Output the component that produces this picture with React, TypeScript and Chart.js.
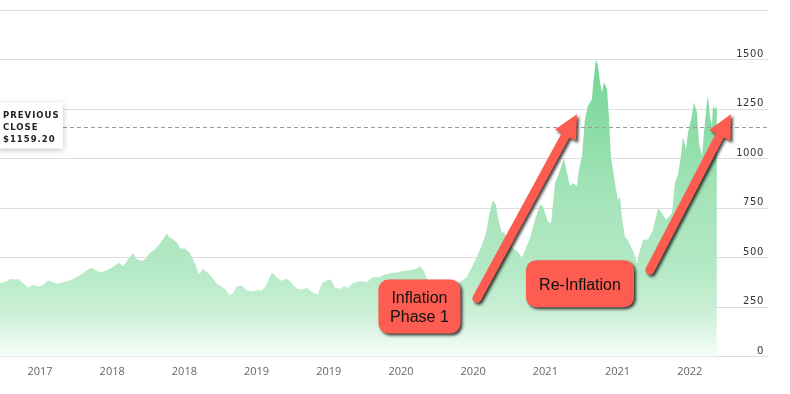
import { useEffect, useRef } from 'react';
import { Chart, registerables } from 'chart.js';

Chart.register(...registerables);

// decimal years
const dates = [
  2017.223, 2017.271, 2017.292, 2017.327, 2017.348, 2017.382, 2017.417, 2017.452, 2017.486, 2017.521,
  2017.555, 2017.583, 2017.618, 2017.659, 2017.694, 2017.729, 2017.777, 2017.825, 2017.860, 2017.895,
  2017.929, 2017.964, 2017.999, 2018.033, 2018.047, 2018.075, 2018.109, 2018.144, 2018.172, 2018.206,
  2018.227, 2018.262, 2018.296, 2018.331, 2018.352, 2018.380, 2018.393, 2018.421, 2018.449, 2018.470,
  2018.504, 2018.539, 2018.573, 2018.601, 2018.629, 2018.657, 2018.691, 2018.726, 2018.760, 2018.781,
  2018.816, 2018.837, 2018.864, 2018.899, 2018.934, 2018.968, 2019.003, 2019.037, 2019.065, 2019.086,
  2019.107, 2019.141, 2019.176, 2019.204, 2019.231, 2019.280, 2019.314, 2019.349, 2019.384, 2019.425,
  2019.453, 2019.488, 2019.515, 2019.543, 2019.578, 2019.612, 2019.633, 2019.668, 2019.716, 2019.765,
  2019.806, 2019.841, 2019.889, 2019.938, 2019.979, 2020.014, 2020.062, 2020.097, 2020.132, 2020.152,
  2020.180, 2020.222, 2020.270, 2020.319, 2020.360, 2020.409, 2020.457, 2020.492, 2020.526, 2020.561,
  2020.589, 2020.609, 2020.630, 2020.637, 2020.658, 2020.672, 2020.700, 2020.713, 2020.741, 2020.776,
  2020.810, 2020.838, 2020.859, 2020.893, 2020.928, 2020.963, 2020.983, 2021.018, 2021.039, 2021.067,
  2021.087, 2021.115, 2021.129, 2021.150, 2021.170, 2021.191, 2021.219, 2021.233, 2021.254, 2021.274,
  2021.295, 2021.323, 2021.330, 2021.350, 2021.364, 2021.378, 2021.392, 2021.406, 2021.427, 2021.440,
  2021.454, 2021.468, 2021.482, 2021.503, 2021.517, 2021.531, 2021.551, 2021.572, 2021.593, 2021.614,
  2021.634, 2021.655, 2021.676, 2021.711, 2021.745, 2021.780, 2021.808, 2021.835, 2021.877, 2021.898,
  2021.918, 2021.939, 2021.953, 2021.974, 2021.988, 2022.015, 2022.029, 2022.050, 2022.064, 2022.085,
  2022.098, 2022.119, 2022.126, 2022.140, 2022.154, 2022.161, 2022.175, 2022.188,
];

const prices = [
  372, 381, 393, 390, 393, 372, 349, 364, 355, 361,
  385, 379, 369, 376, 381, 393, 411, 437, 449, 432,
  428, 437, 451, 467, 474, 457, 491, 522, 491, 484,
  491, 525, 542, 572, 593, 623, 603, 593, 576, 547,
  547, 522, 471, 417, 442, 428, 400, 369, 352, 344,
  310, 322, 356, 359, 335, 330, 337, 335, 359, 395,
  425, 400, 383, 395, 381, 344, 339, 347, 327, 315,
  372, 386, 390, 347, 344, 356, 347, 372, 381, 378,
  403, 400, 415, 423, 425, 433, 437, 442, 457, 440,
  395, 375, 360, 345, 360, 378, 403, 454, 505, 564,
  623, 708, 776, 789, 767, 700, 623, 632, 581, 547,
  530, 501, 538, 598, 691, 770, 758, 682, 674, 877,
  911, 970, 999, 928, 860, 877, 860, 945, 1012, 1199,
  1267, 1300, 1368, 1500, 1470, 1385, 1334, 1385, 1351, 1216,
  1012, 945, 877, 792, 809, 699, 606, 589, 555, 522,
  471, 538, 589, 592, 640, 750, 725, 691, 725, 877,
  919, 1012, 1111, 1046, 1131, 1216, 1284, 1233, 1080, 1012,
  1131, 1284, 1317, 1216, 1165, 1267, 1250, 1263,
];

const xMin = 2017.223;
const xMax = 2022.542;
const xTickValues = [2017.5, 2018, 2018.5, 2019, 2019.5, 2020, 2020.5, 2021, 2021.5, 2022];
const xTickLabels = ['2017', '2018', '2018', '2019', '2019', '2020', '2020', '2021', '2021', '2022'];
const yTickValues = [0, 250, 500, 750, 1000, 1250, 1500];
const yMax = 1750;
const previousClose = 1159.2;
const previousCloseLines = ['PREVIOUS', 'CLOSE', '$1159.20'];

const noteBoxes = [
  { lines: ['Inflation', 'Phase 1'], x: 2020.128, y: 254 },
  { lines: ['Re-Inflation'], x: 2021.24, y: 369 },
];
const noteArrows = [
  { fromX: 2020.526, fromY: 295, toX: 2021.219, toY: 1224 },
  { fromX: 2021.724, fromY: 437, toX: 2022.285, toY: 1224 },
];

const RED = '#fd5c50';

function drawArrow(ctx: CanvasRenderingContext2D, x1: number, y1: number, x2: number, y2: number) {
  const dx = x2 - x1;
  const dy = y2 - y1;
  const len = Math.hypot(dx, dy);
  const ux = dx / len;
  const uy = dy / len;
  const px = -uy;
  const py = ux;
  const headLen = 24;
  const headW = 12;
  const s = 4.5;
  const bx = x2 - ux * headLen;
  const by = y2 - uy * headLen;
  ctx.beginPath();
  ctx.moveTo(x1 + px * s, y1 + py * s);
  ctx.lineTo(bx + px * s, by + py * s);
  ctx.lineTo(bx + px * headW, by + py * headW);
  ctx.lineTo(x2, y2);
  ctx.lineTo(bx - px * headW, by - py * headW);
  ctx.lineTo(bx - px * s, by - py * s);
  ctx.lineTo(x1 - px * s, y1 - py * s);
  ctx.arc(x1, y1, s, Math.atan2(-py, -px), Math.atan2(py, px), true);
  ctx.closePath();
  ctx.fill();
}

const overlayPlugin = {
  id: 'overlay',
  afterDatasetsDraw(chart: any) {
    const { ctx, chartArea, scales } = chart;
    const xs = scales.x;
    const ys = scales.y;
    ctx.save();
    // y labels above grid lines
    ctx.font = '10px "DejaVu Sans"';
    (ctx as any).letterSpacing = '0.6px';
    ctx.fillStyle = '#333';
    ctx.textAlign = 'right';
    ctx.textBaseline = 'alphabetic';
    for (const v of yTickValues) {
      const y = ys.getPixelForValue(v);
      ctx.fillText(String(v), chartArea.right - 4, y - 3);
    }
    (ctx as any).letterSpacing = '0px';

    // previous close dashed line
    const pcY = Math.round(ys.getPixelForValue(previousClose)) + 0.5;
    ctx.strokeStyle = '#9a9a9a';
    ctx.lineWidth = 1;
    ctx.setLineDash([4, 3]);
    ctx.beginPath();
    ctx.moveTo(chartArea.left, pcY);
    ctx.lineTo(chartArea.right, pcY);
    ctx.stroke();
    ctx.setLineDash([]);

    // previous close box
    ctx.save();
    ctx.shadowColor = 'rgba(0,0,0,0.25)';
    ctx.shadowBlur = 6;
    ctx.shadowOffsetY = 1;
    ctx.fillStyle = '#fff';
    ctx.fillRect(chartArea.left - 2, pcY - 25, 65, 46);
    ctx.restore();
    ctx.fillStyle = '#222';
    ctx.font = 'bold 8.5px "DejaVu Sans"';
    (ctx as any).letterSpacing = '1px';
    ctx.textAlign = 'left';
    previousCloseLines.forEach((t, i) => {
      ctx.fillText(t, chartArea.left + 3, pcY - 10 + i * 12);
    });
    (ctx as any).letterSpacing = '0px';

    // arrows
    ctx.save();
    ctx.shadowColor = 'rgba(0,0,0,0.75)';
    ctx.shadowBlur = 3;
    ctx.shadowOffsetX = 2;
    ctx.shadowOffsetY = 2;
    ctx.fillStyle = RED;
    for (const a of noteArrows) {
      drawArrow(
        ctx,
        xs.getPixelForValue(a.fromX),
        ys.getPixelForValue(a.fromY),
        xs.getPixelForValue(a.toX),
        ys.getPixelForValue(a.toY),
      );
    }
    ctx.restore();

    // boxes
    ctx.font = '16px "Liberation Sans", Arial, sans-serif';
    for (const b of noteBoxes) {
      const cx = xs.getPixelForValue(b.x);
      const cy = ys.getPixelForValue(b.y);
      const w = b.lines.length > 1 ? 82 : 108;
      const h = b.lines.length > 1 ? 54 : 47;
      ctx.save();
      ctx.shadowColor = 'rgba(0,0,0,0.75)';
      ctx.shadowBlur = 3;
      ctx.shadowOffsetX = 2;
      ctx.shadowOffsetY = 2;
      ctx.fillStyle = RED;
      ctx.beginPath();
      (ctx as any).roundRect(cx - w / 2, cy - h / 2, w, h, 10);
      ctx.fill();
      ctx.restore();
      ctx.fillStyle = '#111';
      ctx.textAlign = 'center';
      ctx.textBaseline = 'alphabetic';
      const lh = 19;
      const startBase = cy + 6 - ((b.lines.length - 1) * lh) / 2;
      b.lines.forEach((t, i) => ctx.fillText(t, cx, startBase + i * lh));
    }
    ctx.restore();
  },
};

export default function App() {
  const ref = useRef<HTMLCanvasElement>(null);
  useEffect(() => {
    document.body.style.margin = '0';
    const canvas = ref.current!;
    const chart = new Chart(canvas, {
      type: 'line',
      data: {
        datasets: [
          {
            data: dates.map((d, i) => ({ x: d, y: prices[i] })),
            borderWidth: 0,
            pointRadius: 0,
            tension: 0,
            fill: 'origin',
            backgroundColor: (c: any) => {
              const area = c.chart.chartArea;
              if (!area) return '#b3e9c4';
              const g = c.chart.ctx.createLinearGradient(0, area.top, 0, area.bottom);
              g.addColorStop(0, '#5ccd84');
              g.addColorStop(0.15, '#74d596');
              g.addColorStop(0.55, '#a6e4ba');
              g.addColorStop(0.75, '#b4e9c5');
              g.addColorStop(0.86, '#c8efd4');
              g.addColorStop(1, '#f7fdf9');
              return g;
            },
          },
        ],
      },
      options: {
        animation: false,
        responsive: false,
        layout: { padding: { left: 0, right: 22, top: 10, bottom: 8 } },
        plugins: { legend: { display: false }, tooltip: { enabled: false } },
        scales: {
          x: {
            type: 'linear',
            min: xMin,
            max: xMax,
            grid: { display: false, drawTicks: false },
            border: { display: false },
            afterBuildTicks: (s: any) => {
              s.ticks = xTickValues.map((v) => ({ value: v }));
            },
            ticks: {
              autoSkip: false,
              maxRotation: 0,
              padding: 8,
              color: '#666',
              font: { family: '"Open Sans"', size: 11 },
              callback: (_v: any, i: number) => xTickLabels[i],
            },
          },
          y: {
            type: 'linear',
            min: 0,
            max: yMax,
            position: 'left',
            ticks: { display: false, stepSize: 250 },
            grid: { color: '#dedede', drawTicks: false },
            border: { display: false },
          },
        },
      },
      plugins: [overlayPlugin],
    });
    return () => chart.destroy();
  }, []);
  return (
    <div style={{ width: 790, height: 394 }}>
      <canvas ref={ref} width={790} height={394} style={{ display: 'block' }} />
    </div>
  );
}
